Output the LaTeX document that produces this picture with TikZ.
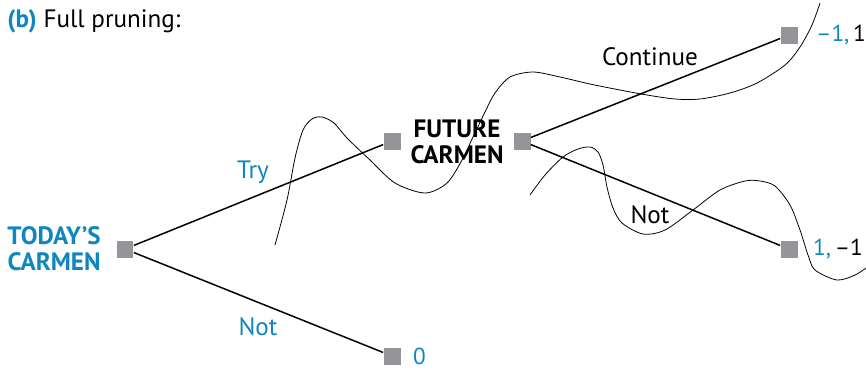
\documentclass[tikz,border=0pt]{standalone}
\usepackage{fontspec}
\setmainfont{PT Sans}
\usetikzlibrary{positioning}
\definecolor{carmenblue}{RGB}{16,134,190}
\definecolor{boxgray}{RGB}{147,149,152}

\begin{document}
\begin{tikzpicture}[x=0.02cm, y=-0.02cm,
    font=\fontsize{14.3}{14.7}\selectfont,
    box/.style={fill=boxgray, minimum size=0.34cm, inner sep=0},
    move/.style={line width=0.85pt},
    cut/.style={line width=0.45pt},
    txt/.style={inner sep=0},
    pay/.style={inner sep=0, font=\fontsize{13.2}{14.7}\selectfont}]
\useasboundingbox (0,0) rectangle (866,370);
% Decision squares of the game tree
\node[box] (today) at (125,249) {};
\node[box] (futL) at (392,141) {};
\node[box] (futR) at (522,141) {};
\node[box] (endCont) at (789,35) {};
\node[box] (endNot) at (789,249) {};
\node[box] (endZero) at (392,356) {};
\draw[move] (today) -- (futL); % try
\draw[move] (today) -- (endZero); % not
\draw[move] (futR) -- (endCont); % continue
\draw[move] (futR) -- (endNot); % not
%% The pruning cuts are drawn as free-hand curves.
\draw[cut] plot[smooth] coordinates {(275,245) (287,200) (295,158) (303,130)
  (312,119) (322,117) (334,123) (347,138) (370,160) (395,183) (425,193) (447,183)
  (462,160) (473,137) (485,112) (495,93) (510,77) (533,72) (560,77)
  (590,84) (620,90) (647,95) (675,99) (700,99) (730,93) (757,83)
  (785,65) (800,47) (812,25) (820,3)};
\draw[cut] plot[smooth] coordinates {(530,195) (545,175) (563,157) (578,149)
  (590,147) (598,152) (603,165) (607,187) (613,208) (622,223) (643,234)
  (665,230) (693,210) (720,190) (745,181) (760,181) (775,186) (790,205)
  (800,230) (808,255) (815,270) (837,280) (855,275) (866,268)};
%% Players, moves and payoffs are typeset.
\node[txt, anchor=base west] (title) at (7,27) {\textbf{\color{carmenblue}(b)} Full pruning:};
\node[txt, left=0.3cm of today, align=center, text=carmenblue, font=\fontsize{14.3}{14.7}\selectfont\bfseries] (todayLbl) {TODAY’S\\CARMEN};
\node[txt, align=center, font=\fontsize{14.3}{14.7}\selectfont\bfseries] (futLbl) at (457,142) {FUTURE\\CARMEN};
\node[txt, text=carmenblue] (try) at (253,172) {Try};
\node[txt, text=carmenblue] (notToday) at (258,327) {Not};
\node[txt] (cont) at (650,57) {Continue};
\node[txt] (notFuture) at (650,215) {Not};
\node[pay, right=0.36cm of endCont] (payCont) {{\color{carmenblue}--1,}\,1};
\node[pay, right=0.3cm of endNot] (payNot) {{\color{carmenblue}1,}\,--1};
\node[pay, right=0.24cm of endZero, text=carmenblue] (payZero) {0};
\end{tikzpicture}
\end{document}
